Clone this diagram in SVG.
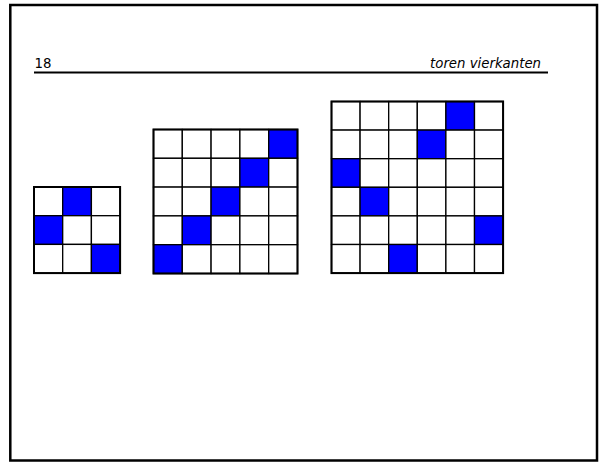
<svg xmlns="http://www.w3.org/2000/svg" width="599" height="462" viewBox="0 0 599 462">
<style>
.t{font-family:"DejaVu Sans",Verdana,sans-serif;font-size:13.3px;fill:#000}
.c{fill:#fff;stroke:#000;stroke-width:1.3}
.b{fill:#0000ff;stroke:#000;stroke-width:1.3}
.o{fill:none;stroke:#000;stroke-width:2}
</style>
<rect width="599" height="462" fill="#fff"/>
<rect x="10.3" y="5" width="586.7" height="455.5" fill="none" stroke="#000" stroke-width="2.5"/>
<g id="header">
<text class="t" x="34.5" y="68.3">18</text>
<text class="t" x="541" y="68.3" text-anchor="end" font-style="italic">toren vierkanten</text>
<line x1="34" y1="72.5" x2="548" y2="72.5" stroke="#000" stroke-width="1.8"/>
</g>
<g id="grid3" transform="translate(34,187)">
<rect class="c" x="0" y="0" width="28.7" height="28.7"/><rect class="b" x="28.7" y="0" width="28.7" height="28.7"/><rect class="c" x="57.4" y="0" width="28.7" height="28.7"/>
<rect class="b" x="0" y="28.7" width="28.7" height="28.7"/><rect class="c" x="28.7" y="28.7" width="28.7" height="28.7"/><rect class="c" x="57.4" y="28.7" width="28.7" height="28.7"/>
<rect class="c" x="0" y="57.4" width="28.7" height="28.7"/><rect class="c" x="28.7" y="57.4" width="28.7" height="28.7"/><rect class="b" x="57.4" y="57.4" width="28.7" height="28.7"/>
<rect class="o" x="0" y="0" width="86.1" height="86.1"/>
</g>
<g id="grid5" transform="translate(153.5,129.5)">
<rect class="c" x="0" y="0" width="28.8" height="28.8"/><rect class="c" x="28.8" y="0" width="28.8" height="28.8"/><rect class="c" x="57.6" y="0" width="28.8" height="28.8"/><rect class="c" x="86.4" y="0" width="28.8" height="28.8"/><rect class="b" x="115.2" y="0" width="28.8" height="28.8"/>
<rect class="c" x="0" y="28.8" width="28.8" height="28.8"/><rect class="c" x="28.8" y="28.8" width="28.8" height="28.8"/><rect class="c" x="57.6" y="28.8" width="28.8" height="28.8"/><rect class="b" x="86.4" y="28.8" width="28.8" height="28.8"/><rect class="c" x="115.2" y="28.8" width="28.8" height="28.8"/>
<rect class="c" x="0" y="57.6" width="28.8" height="28.8"/><rect class="c" x="28.8" y="57.6" width="28.8" height="28.8"/><rect class="b" x="57.6" y="57.6" width="28.8" height="28.8"/><rect class="c" x="86.4" y="57.6" width="28.8" height="28.8"/><rect class="c" x="115.2" y="57.6" width="28.8" height="28.8"/>
<rect class="c" x="0" y="86.4" width="28.8" height="28.8"/><rect class="b" x="28.8" y="86.4" width="28.8" height="28.8"/><rect class="c" x="57.6" y="86.4" width="28.8" height="28.8"/><rect class="c" x="86.4" y="86.4" width="28.8" height="28.8"/><rect class="c" x="115.2" y="86.4" width="28.8" height="28.8"/>
<rect class="b" x="0" y="115.2" width="28.8" height="28.8"/><rect class="c" x="28.8" y="115.2" width="28.8" height="28.8"/><rect class="c" x="57.6" y="115.2" width="28.8" height="28.8"/><rect class="c" x="86.4" y="115.2" width="28.8" height="28.8"/><rect class="c" x="115.2" y="115.2" width="28.8" height="28.8"/>
<rect class="o" x="0" y="0" width="144" height="144"/>
</g>
<g id="grid6" transform="translate(331.5,101.5)">
<rect class="c" x="0" y="0" width="28.6" height="28.6"/><rect class="c" x="28.6" y="0" width="28.6" height="28.6"/><rect class="c" x="57.2" y="0" width="28.6" height="28.6"/><rect class="c" x="85.8" y="0" width="28.6" height="28.6"/><rect class="b" x="114.4" y="0" width="28.6" height="28.6"/><rect class="c" x="143" y="0" width="28.6" height="28.6"/>
<rect class="c" x="0" y="28.6" width="28.6" height="28.6"/><rect class="c" x="28.6" y="28.6" width="28.6" height="28.6"/><rect class="c" x="57.2" y="28.6" width="28.6" height="28.6"/><rect class="b" x="85.8" y="28.6" width="28.6" height="28.6"/><rect class="c" x="114.4" y="28.6" width="28.6" height="28.6"/><rect class="c" x="143" y="28.6" width="28.6" height="28.6"/>
<rect class="b" x="0" y="57.2" width="28.6" height="28.6"/><rect class="c" x="28.6" y="57.2" width="28.6" height="28.6"/><rect class="c" x="57.2" y="57.2" width="28.6" height="28.6"/><rect class="c" x="85.8" y="57.2" width="28.6" height="28.6"/><rect class="c" x="114.4" y="57.2" width="28.6" height="28.6"/><rect class="c" x="143" y="57.2" width="28.6" height="28.6"/>
<rect class="c" x="0" y="85.8" width="28.6" height="28.6"/><rect class="b" x="28.6" y="85.8" width="28.6" height="28.6"/><rect class="c" x="57.2" y="85.8" width="28.6" height="28.6"/><rect class="c" x="85.8" y="85.8" width="28.6" height="28.6"/><rect class="c" x="114.4" y="85.8" width="28.6" height="28.6"/><rect class="c" x="143" y="85.8" width="28.6" height="28.6"/>
<rect class="c" x="0" y="114.4" width="28.6" height="28.6"/><rect class="c" x="28.6" y="114.4" width="28.6" height="28.6"/><rect class="c" x="57.2" y="114.4" width="28.6" height="28.6"/><rect class="c" x="85.8" y="114.4" width="28.6" height="28.6"/><rect class="c" x="114.4" y="114.4" width="28.6" height="28.6"/><rect class="b" x="143" y="114.4" width="28.6" height="28.6"/>
<rect class="c" x="0" y="143" width="28.6" height="28.6"/><rect class="c" x="28.6" y="143" width="28.6" height="28.6"/><rect class="b" x="57.2" y="143" width="28.6" height="28.6"/><rect class="c" x="85.8" y="143" width="28.6" height="28.6"/><rect class="c" x="114.4" y="143" width="28.6" height="28.6"/><rect class="c" x="143" y="143" width="28.6" height="28.6"/>
<rect class="o" x="0" y="0" width="171.6" height="171.6"/>
</g>
</svg>
